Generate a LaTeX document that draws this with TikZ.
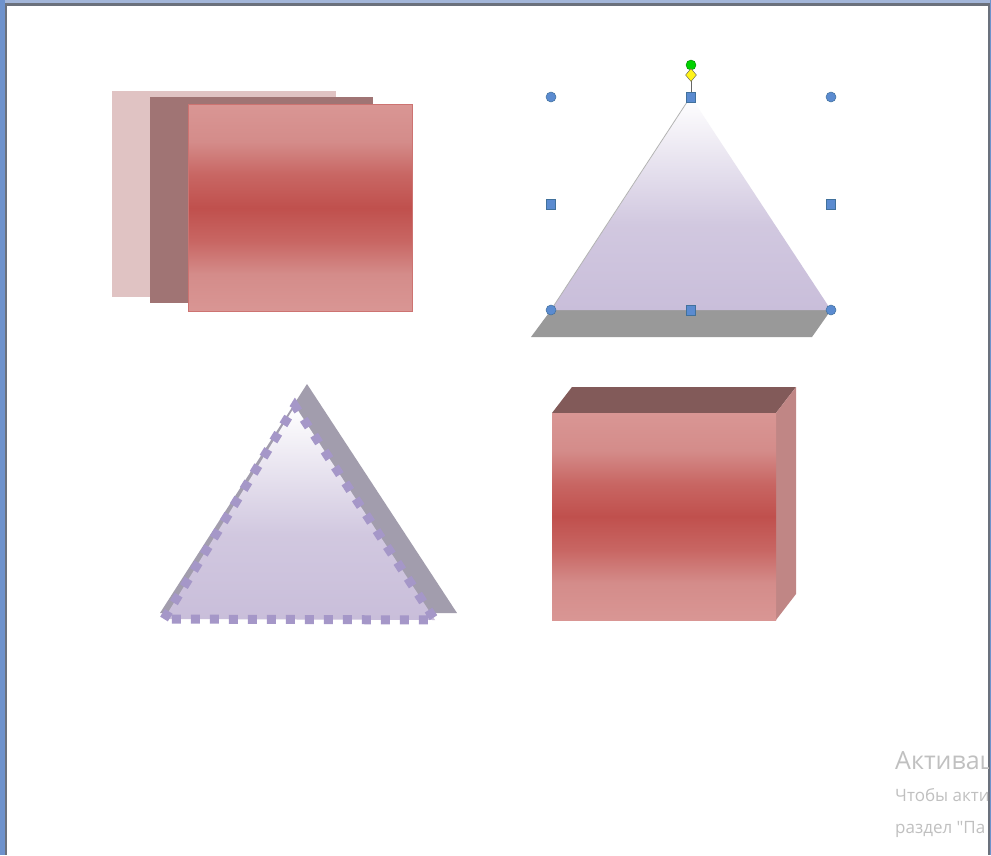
\documentclass[tikz,border=0pt]{standalone}
\usepackage{fontspec}
\newfontfamily\wmfont{Open Sans}
\usetikzlibrary{shapes.geometric}
\definecolor{lightR}{HTML}{D99694}
\definecolor{softR}{HTML}{D48C8A}
\definecolor{halfR}{HTML}{C86663}
\definecolor{midR}{HTML}{C0504D}
\definecolor{backPink}{HTML}{E0C3C3}
\definecolor{midMauve}{HTML}{A07474}
\definecolor{topFace}{HTML}{825A59}
\definecolor{sideFace}{HTML}{C08685}
\definecolor{lav}{HTML}{C9BEDA}
\definecolor{lavdash}{HTML}{A597C8}
\definecolor{shadowGray}{HTML}{999999}
\definecolor{shadowLav}{HTML}{A29DAD}
\definecolor{hblue}{HTML}{5B8BD0}
\definecolor{hedge}{HTML}{41719C}
\definecolor{wmgray}{HTML}{C0C0C0}
\definecolor{frameBlue}{HTML}{6E92CC}
\definecolor{frameTop}{HTML}{A3B6D9}
\definecolor{frameGray}{HTML}{6B717C}
\pgfdeclareverticalshading{redband}{100bp}{color(0bp)=(lightR); color(25bp)=(lightR); color(34bp)=(softR); color(42bp)=(halfR); color(50bp)=(midR); color(58bp)=(halfR); color(66bp)=(softR); color(75bp)=(lightR); color(100bp)=(lightR)}
\pgfdeclareverticalshading{lavfade}{100bp}{color(0bp)=(lav); color(25bp)=(lav); color(45bp)=(lav!85!white); color(75bp)=(white); color(100bp)=(white)}
\tikzset{
  redface/.style={shading=redband, draw=midR!80!white, line width=0.8pt},
  handlecirc/.style={circle, fill=hblue, draw=hedge, line width=0.5pt, minimum size=10pt, inner sep=0pt},
  handlesq/.style={rectangle, fill=hblue, draw=hedge, line width=0.5pt, minimum width=9pt, minimum height=10pt, inner sep=0pt},
  wmtext/.style={text=wmgray, anchor=base west, inner sep=0pt},
}
\begin{document}
\begin{tikzpicture}[x=1pt,y=-1pt]
\useasboundingbox (0,0) rectangle (991,855);
\fill[white] (0,0) rectangle (991,855);
% frame
\fill[frameBlue] (0,0) rectangle (5,855);
\fill[frameTop] (5,0) rectangle (991,3);
\fill[frameGray] (5,3) rectangle (991,6);
\fill[frameGray] (5,3) rectangle (7,855);
\fill[frameGray] (988,3) rectangle (990,855);
\fill[frameBlue] (990,0) rectangle (991,855);

% top-left: stacked rectangles
\node[fill=backPink, inner sep=0pt, minimum width=224pt, minimum height=206pt, anchor=north west] (back) at (112,91) {};
\node[fill=midMauve, inner sep=0pt, minimum width=223pt, minimum height=206pt, anchor=north west] (mid) at (150,97) {};
\node[redface, inner sep=0pt, minimum width=224pt, minimum height=207pt, anchor=north west] (front) at (188,104) {};

% top-right: triangle with shadow and selection handles
\fill[shadowGray] (551,310) -- (831,310) -- (812,337) -- (531,337) -- cycle;
\shade[shading=lavfade] (691,97) -- (831,310) -- (551,310) -- cycle;
\draw[gray!60, line width=0.8pt] (689,99) -- (551,310);
\draw[gray!80!black, line width=0.6pt] (691,66) -- (691,97);
\node[handlecirc] (hTL) at (551,97) {};
\node[handlecirc] (hTR) at (831,97) {};
\node[handlecirc] (hBL) at (551,310) {};
\node[handlecirc] (hBR) at (831,310) {};
\node[handlesq] (hT) at (691,97) {};
\node[handlesq] (hL) at (551,204) {};
\node[handlesq] (hR) at (831,204) {};
\node[handlesq] (hB) at (691,310) {};
\node[circle, fill=green!75!black!70!green, draw=green!50!black, line width=0.4pt, minimum size=10pt, inner sep=0pt] (rot) at (691,65) {};
\node[diamond, fill=yellow!90!white, draw=gray!70!black, line width=0.4pt, minimum width=11pt, minimum height=13pt, inner sep=0pt] (adj) at (691,75) {};

% bottom-left: dashed triangle with shadow
\fill[shadowLav] (160,613) -- (307,384) -- (457,613) -- cycle;
\shade[shading=lavfade] (295,406) -- (435,620) -- (164,619) -- cycle;
\draw[lavdash, line width=9pt, dash pattern=on 9pt off 10pt] (164,619) -- (295,406) -- (435,620) -- cycle;

% bottom-right: 3D box
\fill[topFace] (552,413) -- (572,387) -- (796,387) -- (776,413) -- cycle;
\fill[sideFace] (776,413) -- (796,387) -- (796,594) -- (776,620) -- cycle;
\node[shading=redband, inner sep=0pt, minimum width=224pt, minimum height=207pt, anchor=north west] (box) at (552,413) {};

% watermark text, cut at the frame
\begin{scope}
\clip (7,6) rectangle (988,855);
\node[wmtext, font=\wmfont\fontsize{25}{30}\selectfont] (wm1) at (895,769) {Активац};
\node[wmtext, font=\wmfont\fontsize{17}{20}\selectfont] (wm2) at (895,801) {Чтобы акти};
\node[wmtext, font=\wmfont\fontsize{17}{20}\selectfont] (wm3) at (895,833) {раздел "Па};
\end{scope}
\end{tikzpicture}
\end{document}
